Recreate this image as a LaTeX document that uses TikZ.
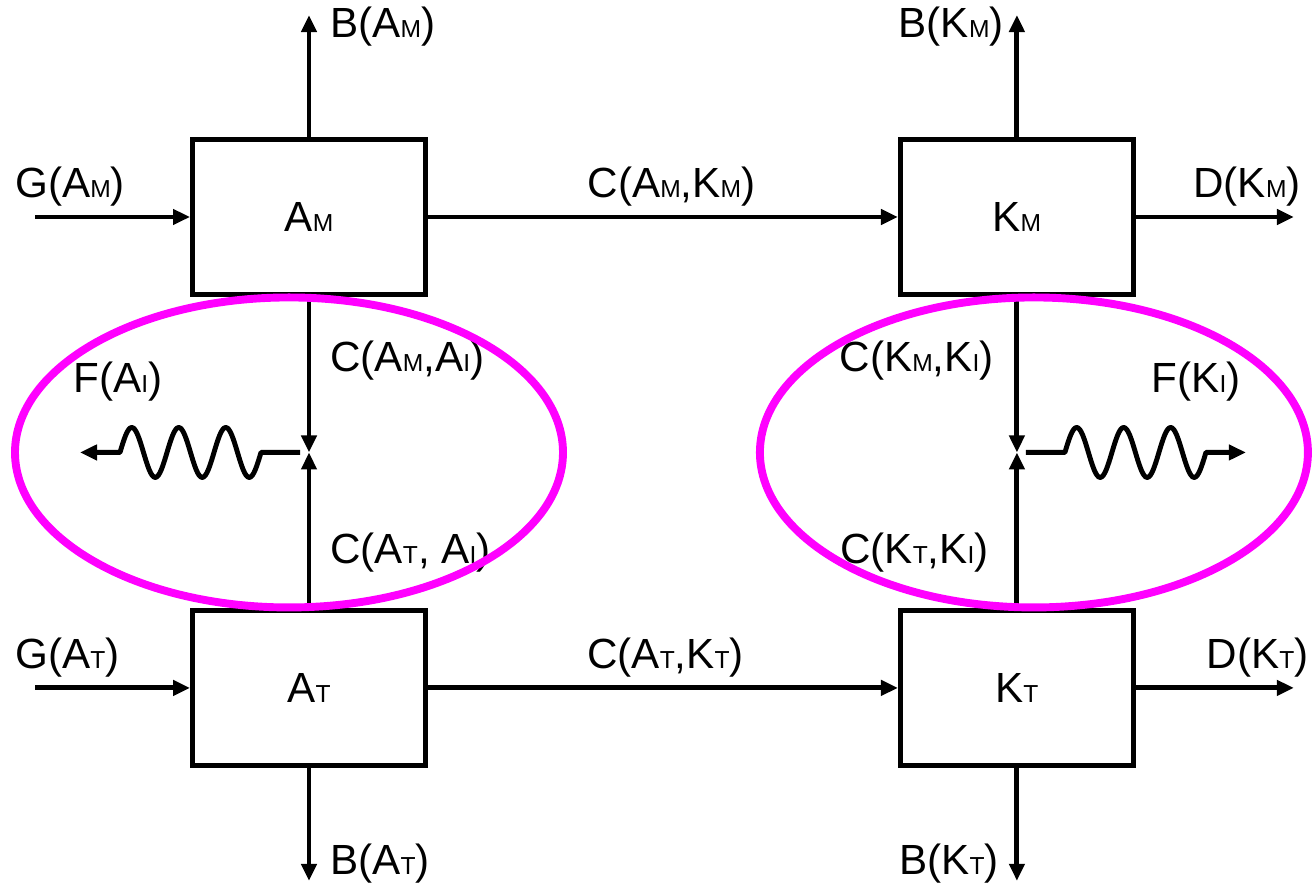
\documentclass[tikz,border=0pt]{standalone}
\usepackage{fontspec}
\setmainfont{Liberation Sans}
\usetikzlibrary{positioning,calc,arrows.meta}
\definecolor{ringmag}{RGB}{255,0,255}
\newcommand{\myfont}{\fontsize{24}{28}\selectfont}
\newcommand{\lowcap}[1]{{\fontsize{14}{14}\selectfont #1}}
\newcommand{\xdist}{9.40cm}
\newcommand{\ydist}{6.22cm}
\newcommand{\minw}{4.66cm}
\newcommand{\minh}{3.1cm}
\newcommand{\inlen}{3.1cm}
\newcommand{\outlen}{3.16cm}
\newcommand{\uplen}{2.44cm}
\newcommand{\downlen}{2.26cm}
\newcommand{\ringw}{5.48cm}
\newcommand{\ringh}{3.1cm}
\newcommand{\wq}{0.235}
\newcommand{\wa}{0.5}

\begin{document}
\begin{tikzpicture}[node distance = 1cm, auto,
  box/.style={rectangle, minimum width=\minw, minimum height=\minh,
    inner sep=1pt, draw=black, line width=2.8pt, fill=white, font=\myfont},
  flow/.style={line width=2.8pt, -{Triangle[length=0.34cm,width=0.3cm]}},
  ring/.style={draw=ringmag, line width=4.5pt},
  lbl/.style={font=\myfont, inner sep=0pt}]

  \useasboundingbox (0,0) rectangle (26.32,17.9);

  %%%%%%%%%%% boxes

  % A M
  \node [box] (am) at (6.18,13.56) {A\lowcap{M}};

  % K M
  \node [box, right=\xdist of am] (km) {K\lowcap{M}};

  % A T
  \node [box, below=\ydist of am] (at) {A\lowcap{T}};

  % K T
  \node [box, below=\ydist of km] (kt) {K\lowcap{T}};

  %%%%%%%%%%% free ends

  \coordinate [above=\uplen of am.north] (amtop);
  \coordinate [above=\uplen of km.north] (kmtop);
  \coordinate [below=\downlen of at.south] (atbot);
  \coordinate [below=\downlen of kt.south] (ktbot);
  \coordinate [left=\inlen of am.west] (amin);
  \coordinate [left=\inlen of at.west] (atin);
  \coordinate [right=\outlen of km.east] (kmout);
  \coordinate [right=\outlen of kt.east] (ktout);

  % junctions between M and T
  \coordinate (ja) at ($(am.south)!0.5!(at.north)$);
  \coordinate (jk) at ($(km.south)!0.5!(kt.north)$);
  \coordinate [left=0.18cm of ja] (jaw);
  \coordinate [left=4.4cm of jaw] (faend);
  \coordinate [right=0.18cm of jk] (jke);
  \coordinate [right=4.4cm of jke] (fkend);

  %%%%%%%%%%% connectors

  % B
  \draw [flow] (am) -- (amtop);
  \draw [flow] (km) -- (kmtop);
  \draw [flow] (at) -- (atbot);
  \draw [flow] (kt) -- (ktbot);

  % G
  \draw [flow] (amin) -- (am);
  \draw [flow] (atin) -- (at);

  % D
  \draw [flow] (km) -- (kmout);
  \draw [flow] (kt) -- (ktout);

  % C between A and K
  \draw [flow] (am) -- (km) node [lbl, midway, anchor=base, xshift=0.17cm, yshift=0.38cm] {C(A\lowcap{M},K\lowcap{M})};
  \draw [flow] (at) -- (kt) node [lbl, midway, anchor=base, xshift=0.05cm, yshift=0.38cm] {C(A\lowcap{T},K\lowcap{T})};

  % C into the junctions
  \draw [flow] (am) -- (ja);
  \draw [flow] (at) -- (ja);
  \draw [flow] (km) -- (jk);
  \draw [flow] (kt) -- (jk);

  % F, wavy
  \draw [flow, line join=round] (jaw) -- ++(-0.78,0)
    \foreach \i in {1,2,3} { sin ++(-\wq,-\wa) cos ++(-\wq,\wa) sin ++(-\wq,\wa) cos ++(-\wq,-\wa) }
    -- (faend);
  \draw [flow, line join=round] (jke) -- ++(0.78,0)
    \foreach \i in {1,2,3} { sin ++(\wq,\wa) cos ++(\wq,-\wa) sin ++(\wq,-\wa) cos ++(\wq,\wa) }
    -- (fkend);

  %%%%%%%%%%% labels

  \node [lbl, anchor=base west] (lbam) at ([xshift=0.42cm, yshift=-0.44cm]amtop) {B(A\lowcap{M})};
  \node [lbl, anchor=base east] (lbkm) at ([xshift=-0.26cm, yshift=-0.44cm]kmtop) {B(K\lowcap{M})};
  \node [lbl, anchor=base west] (lbat) at ([xshift=0.42cm, yshift=0.12cm]atbot) {B(A\lowcap{T})};
  \node [lbl, anchor=base east] (lbkt) at ([xshift=-0.36cm, yshift=0.12cm]ktbot) {B(K\lowcap{T})};

  \node [lbl, anchor=base west] (lgam) at ([xshift=-0.4cm, yshift=0.38cm]amin) {G(A\lowcap{M})};
  \node [lbl, anchor=base west] (lgat) at ([xshift=-0.4cm, yshift=0.38cm]atin) {G(A\lowcap{T})};

  \node [lbl, anchor=base east] (ldkm) at ([xshift=0.14cm, yshift=0.38cm]kmout) {D(K\lowcap{M})};
  \node [lbl, anchor=base east] (ldkt) at ([xshift=0.3cm, yshift=0.38cm]ktout) {D(K\lowcap{T})};

  \node [lbl, anchor=base west] (lcami) at ([xshift=0.42cm, yshift=-1.49cm]am.south) {C(A\lowcap{M},A\lowcap{I})};
  \node [lbl, anchor=base west] (lcati) at ([xshift=0.42cm, yshift=0.89cm]at.north) {C(A\lowcap{T}, A\lowcap{I})};
  \node [lbl, anchor=base east] (lckmi) at ([xshift=-0.46cm, yshift=-1.49cm]km.south) {C(K\lowcap{M},K\lowcap{I})};
  \node [lbl, anchor=base east] (lckti) at ([xshift=-0.56cm, yshift=0.89cm]kt.north) {C(K\lowcap{T},K\lowcap{I})};

  \node [lbl, anchor=base west] (lfai) at ([xshift=-0.14cm, yshift=1.2cm]faend) {F(A\lowcap{I})};
  \node [lbl, anchor=base east] (lfki) at ([xshift=-0.1cm, yshift=1.2cm]fkend) {F(K\lowcap{I})};

  %%%%%%%%%%% rings

  \draw [ring] ([xshift=-0.4cm]ja) ellipse [x radius=\ringw, y radius=\ringh];
  \draw [ring] ([xshift=0.34cm]jk) ellipse [x radius=\ringw, y radius=\ringh];

\end{tikzpicture}
\end{document}
